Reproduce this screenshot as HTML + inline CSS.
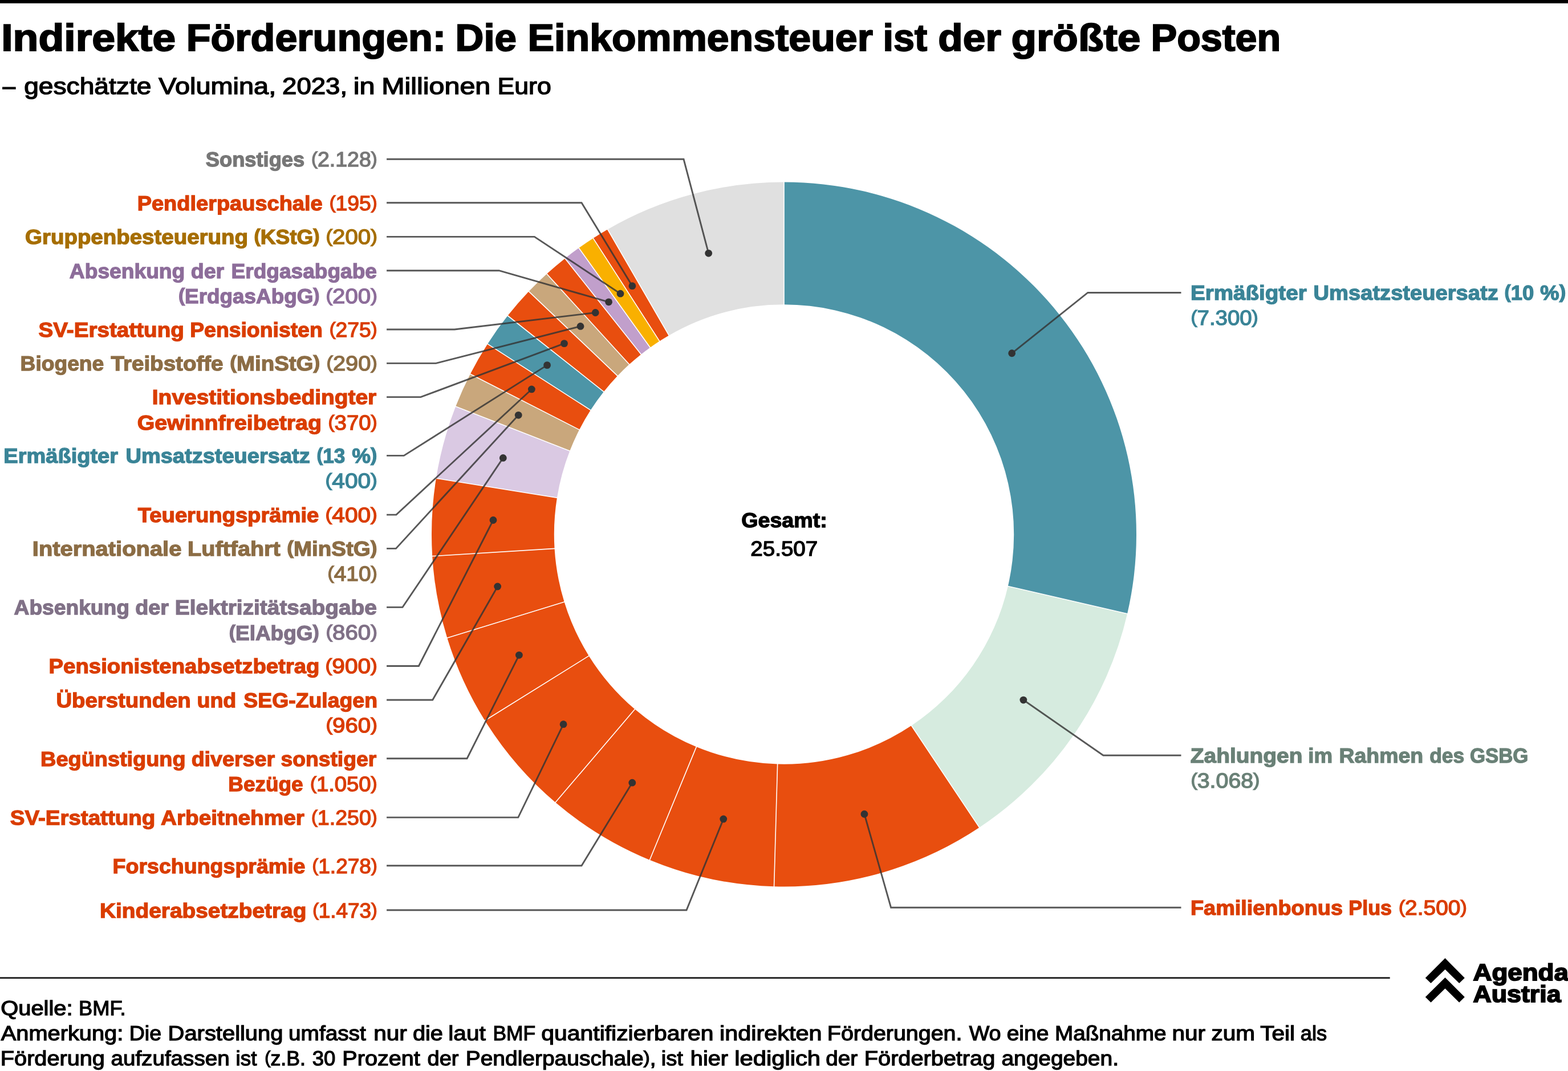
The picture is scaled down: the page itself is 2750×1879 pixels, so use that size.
<!DOCTYPE html>
<html lang="de"><head><meta charset="utf-8"><title>Indirekte Förderungen</title>
<style>
html,body{margin:0;padding:0;background:#fff;}
body{width:2750px;height:1879px;overflow:hidden;position:relative;font-family:"Liberation Sans",sans-serif;}
svg{position:absolute;left:0;top:0;display:block;}
text{font-family:"Liberation Sans",sans-serif;stroke-linejoin:miter;stroke-miterlimit:3;text-rendering:geometricPrecision;}
.B{font-weight:700;font-size:36.0px;stroke-width:1.3px;}.N{font-weight:400;font-size:36.6px;stroke-width:1.4px;}.T{font-weight:700;font-size:66.5px;stroke-width:2.0px;}.S{font-weight:400;font-size:40.8px;stroke-width:1.4px;}.F{font-weight:400;font-size:36.1px;stroke-width:1.3px;}.L{font-weight:700;font-size:41.2px;stroke-width:1.9px;}.Bp{font-size:32.85px;}.Np{font-size:31.66px;}.Fp{font-size:31.23px;}
.lead path{fill:none;stroke:#333;stroke-opacity:.82;stroke-width:2.9;stroke-linejoin:miter;}
.dots circle{fill:#333;}
</style></head>
<body>
<svg width="2750" height="1879" viewBox="0 0 2750 1879" xmlns="http://www.w3.org/2000/svg">
<rect x="0" y="0" width="2750" height="5.8" fill="#000"/>
<g class="head">
<text fill="#000" stroke="#000"><tspan x="2.24" y="89" textLength="305.82" lengthAdjust="spacingAndGlyphs" class="T">Indirekte</tspan> <tspan x="326.76" y="89" textLength="455.33" lengthAdjust="spacingAndGlyphs" class="T">Förderungen:</tspan> <tspan x="798.59" y="89" textLength="107.32" lengthAdjust="spacingAndGlyphs" class="T">Die</tspan> <tspan x="925.53" y="89" textLength="605.33" lengthAdjust="spacingAndGlyphs" class="T">Einkommensteuer</tspan> <tspan x="1548.56" y="89" textLength="77.55" lengthAdjust="spacingAndGlyphs" class="T">ist</tspan> <tspan x="1645.29" y="89" textLength="110.59" lengthAdjust="spacingAndGlyphs" class="T">der</tspan> <tspan x="1773.46" y="89" textLength="226.83" lengthAdjust="spacingAndGlyphs" class="T">größte</tspan> <tspan x="2018.63" y="89" textLength="227.65" lengthAdjust="spacingAndGlyphs" class="T">Posten</tspan></text>
<text fill="#000" stroke="#000"><tspan x="4.75" y="165" textLength="22.32" lengthAdjust="spacingAndGlyphs" class="S">–</tspan> <tspan x="42.21" y="165" textLength="223.19" lengthAdjust="spacingAndGlyphs" class="S">geschätzte</tspan> <tspan x="278.24" y="165" textLength="206.02" lengthAdjust="spacingAndGlyphs" class="S">Volumina,</tspan> <tspan x="495.06" y="165" textLength="114.09" lengthAdjust="spacingAndGlyphs" class="S">2023,</tspan> <tspan x="619.65" y="165" textLength="37.86" lengthAdjust="spacingAndGlyphs" class="S">in</tspan> <tspan x="669.18" y="165" textLength="191.07" lengthAdjust="spacingAndGlyphs" class="S">Millionen</tspan> <tspan x="872.49" y="165" textLength="94.23" lengthAdjust="spacingAndGlyphs" class="S">Euro</tspan></text>
</g>
<g class="donut">
<path d="M1375.00,319.50A618.0,618.0 0 0 1 1977.09,1076.84L1767.82,1028.41A403.2,403.2 0 0 0 1375.00,534.30Z" fill="#4D95A7"/>
<path d="M1977.09,1076.84A618.0,618.0 0 0 1 1717.61,1451.84L1598.53,1273.07A403.2,403.2 0 0 0 1767.82,1028.41Z" fill="#D6EBDF"/>
<path d="M1717.61,1451.84A618.0,618.0 0 0 1 1357.57,1555.25L1363.63,1340.54A403.2,403.2 0 0 0 1598.53,1273.07Z" fill="#E84E0F"/>
<path d="M1357.57,1555.25A618.0,618.0 0 0 1 1139.44,1508.85L1221.32,1310.26A403.2,403.2 0 0 0 1363.63,1340.54Z" fill="#E84E0F"/>
<path d="M1139.44,1508.85A618.0,618.0 0 0 1 974.11,1407.83L1113.45,1244.36A403.2,403.2 0 0 0 1221.32,1310.26Z" fill="#E84E0F"/>
<path d="M974.11,1407.83A618.0,618.0 0 0 1 850.42,1264.21L1032.75,1150.65A403.2,403.2 0 0 0 1113.45,1244.36Z" fill="#E84E0F"/>
<path d="M850.42,1264.21A618.0,618.0 0 0 1 784.31,1119.17L989.61,1056.03A403.2,403.2 0 0 0 1032.75,1150.65Z" fill="#E84E0F"/>
<path d="M784.31,1119.17A618.0,618.0 0 0 1 758.18,975.72L972.57,962.44A403.2,403.2 0 0 0 989.61,1056.03Z" fill="#E84E0F"/>
<path d="M758.18,975.72A618.0,618.0 0 0 1 764.87,839.16L976.94,873.34A403.2,403.2 0 0 0 972.57,962.44Z" fill="#E84E0F"/>
<path d="M764.87,839.16A618.0,618.0 0 0 1 799.19,713.07L999.33,791.08A403.2,403.2 0 0 0 976.94,873.34Z" fill="#DAC9E3"/>
<path d="M799.19,713.07A618.0,618.0 0 0 1 824.75,656.16L1016.00,753.94A403.2,403.2 0 0 0 999.33,791.08Z" fill="#C9A77C"/>
<path d="M824.75,656.16A618.0,618.0 0 0 1 855.10,603.39L1035.80,719.52A403.2,403.2 0 0 0 1016.00,753.94Z" fill="#E84E0F"/>
<path d="M855.10,603.39A618.0,618.0 0 0 1 890.49,553.87L1058.89,687.21A403.2,403.2 0 0 0 1035.80,719.52Z" fill="#4D95A7"/>
<path d="M890.49,553.87A618.0,618.0 0 0 1 927.42,511.36L1082.98,659.48A403.2,403.2 0 0 0 1058.89,687.21Z" fill="#E84E0F"/>
<path d="M927.42,511.36A618.0,618.0 0 0 1 958.97,480.50L1103.57,639.34A403.2,403.2 0 0 0 1082.98,659.48Z" fill="#C9A77C"/>
<path d="M958.97,480.50A618.0,618.0 0 0 1 990.86,453.39L1124.38,621.65A403.2,403.2 0 0 0 1103.57,639.34Z" fill="#E84E0F"/>
<path d="M990.86,453.39A618.0,618.0 0 0 1 1015.17,435.06L1140.24,609.69A403.2,403.2 0 0 0 1124.38,621.65Z" fill="#C19FCB"/>
<path d="M1015.17,435.06A618.0,618.0 0 0 1 1040.35,417.95L1156.66,598.53A403.2,403.2 0 0 0 1140.24,609.69Z" fill="#F9B000"/>
<path d="M1040.35,417.95A618.0,618.0 0 0 1 1065.68,402.48L1173.19,588.44A403.2,403.2 0 0 0 1156.66,598.53Z" fill="#E84E0F"/>
<path d="M1065.68,402.48A618.0,618.0 0 0 1 1375.00,319.50L1375.00,534.30A403.2,403.2 0 0 0 1173.19,588.44Z" fill="#E0E0E0"/>
<path d="M1375.00,318.50L1375.00,535.30M1978.06,1077.07L1766.84,1028.18M1718.16,1452.67L1597.97,1272.23M1357.54,1556.25L1363.66,1339.54M1139.06,1509.77L1221.70,1309.34M973.46,1408.59L1114.10,1243.59M849.57,1264.74L1033.60,1150.13M783.35,1119.46L990.57,1055.73M757.19,975.79L973.57,962.38M763.89,839.00L977.92,873.50M798.26,712.71L1000.26,791.44M823.86,655.70L1016.90,754.40M854.26,602.85L1036.64,720.06M889.70,553.25L1059.68,687.83M926.69,510.67L1083.71,660.17M958.30,479.76L1104.25,640.08M990.24,452.61L1125.00,622.44M1014.59,434.25L1140.82,610.51M1039.81,417.11L1157.21,599.37M1065.18,401.61L1173.69,589.30" fill="none" stroke="#fff" stroke-width="1.6"/>
</g>
<g class="lead">
<path d="M678.1,279.3L1199.0,279.3L1242.70,444.34"/>
<path d="M678.1,355.8L1020.0,355.8L1108.89,501.72"/>
<path d="M678.1,415.4L937.3,415.4L1088.02,515.18"/>
<path d="M678.1,474.7L875.2,474.7L1067.57,529.83"/>
<path d="M678.1,578.0L797.1,578.0L1044.26,548.50"/>
<path d="M678.1,637.4L764.6,637.4L1018.01,572.44"/>
<path d="M678.1,696.6L737.9,696.6L989.55,602.63"/>
<path d="M678.1,799.4L708.3,799.4L959.57,640.64"/>
<path d="M678.1,903.1L694.9,903.1L932.38,682.94"/>
<path d="M678.1,962.4L694.4,962.4L909.23,728.30"/>
<path d="M678.1,1065.4L706.0,1065.4L882.32,803.41"/>
<path d="M678.1,1168.5L734.4,1168.5L865.01,912.51"/>
<path d="M678.1,1228.0L758.7,1228.0L872.66,1028.98"/>
<path d="M678.1,1330.7L819.1,1330.7L910.39,1149.28"/>
<path d="M678.1,1434.1L908.8,1434.1L988.11,1270.70"/>
<path d="M678.1,1518.7L1020.0,1518.7L1108.79,1373.21"/>
<path d="M678.1,1596.7L1204.0,1596.7L1268.75,1436.92"/>
<path d="M2071.5,513.45L1907.8,513.45L1774.68,619.75"/>
<path d="M2071.5,1325.25L1934.9,1325.25L1794.88,1228.04"/>
<path d="M2071.5,1592.25L1562.6,1592.25L1515.96,1428.26"/>
</g>
<g class="dots">
<circle cx="1242.70" cy="444.34" r="6.4"/>
<circle cx="1108.89" cy="501.72" r="6.4"/>
<circle cx="1088.02" cy="515.18" r="6.4"/>
<circle cx="1067.57" cy="529.83" r="6.4"/>
<circle cx="1044.26" cy="548.50" r="6.4"/>
<circle cx="1018.01" cy="572.44" r="6.4"/>
<circle cx="989.55" cy="602.63" r="6.4"/>
<circle cx="959.57" cy="640.64" r="6.4"/>
<circle cx="932.38" cy="682.94" r="6.4"/>
<circle cx="909.23" cy="728.30" r="6.4"/>
<circle cx="882.32" cy="803.41" r="6.4"/>
<circle cx="865.01" cy="912.51" r="6.4"/>
<circle cx="872.66" cy="1028.98" r="6.4"/>
<circle cx="910.39" cy="1149.28" r="6.4"/>
<circle cx="988.11" cy="1270.70" r="6.4"/>
<circle cx="1108.79" cy="1373.21" r="6.4"/>
<circle cx="1268.75" cy="1436.92" r="6.4"/>
<circle cx="1774.68" cy="619.75" r="6.4"/>
<circle cx="1794.88" cy="1228.04" r="6.4"/>
<circle cx="1515.96" cy="1428.26" r="6.4"/>
</g>
<g class="labels">
<text fill="#777777" stroke="#777777"><tspan x="360.85" y="292" textLength="173.33" lengthAdjust="spacingAndGlyphs" class="B">Sonstiges</tspan> <tspan x="546.09" y="289" textLength="10.81" lengthAdjust="spacingAndGlyphs" class="N Np">(</tspan><tspan x="556.90" y="292" textLength="93.91" lengthAdjust="spacingAndGlyphs" class="N">2.128</tspan><tspan x="650.80" y="289" textLength="10.81" lengthAdjust="spacingAndGlyphs" class="N Np">)</tspan></text>
<text fill="#DA3D00" stroke="#DA3D00"><tspan x="240.68" y="369" textLength="324.93" lengthAdjust="spacingAndGlyphs" class="B">Pendlerpauschale</tspan> <tspan x="577.71" y="366" textLength="10.77" lengthAdjust="spacingAndGlyphs" class="N Np">(</tspan><tspan x="588.48" y="369" textLength="62.36" lengthAdjust="spacingAndGlyphs" class="N">195</tspan><tspan x="650.84" y="366" textLength="10.77" lengthAdjust="spacingAndGlyphs" class="N Np">)</tspan></text>
<text fill="#A66E00" stroke="#A66E00"><tspan x="44.05" y="428" textLength="390.91" lengthAdjust="spacingAndGlyphs" class="B">Gruppenbesteuerung</tspan> <tspan x="445.45" y="425" textLength="11.26" lengthAdjust="spacingAndGlyphs" class="B Bp">(</tspan><tspan x="456.71" y="428" textLength="92.61" lengthAdjust="spacingAndGlyphs" class="B">KStG</tspan><tspan x="549.32" y="425" textLength="11.26" lengthAdjust="spacingAndGlyphs" class="B Bp">)</tspan> <tspan x="571.53" y="425" textLength="11.58" lengthAdjust="spacingAndGlyphs" class="N Np">(</tspan><tspan x="583.11" y="428" textLength="67.07" lengthAdjust="spacingAndGlyphs" class="N">200</tspan><tspan x="650.18" y="425" textLength="11.58" lengthAdjust="spacingAndGlyphs" class="N Np">)</tspan></text>
<text fill="#8D6D9A" stroke="#8D6D9A"><tspan x="121.81" y="488" textLength="202.52" lengthAdjust="spacingAndGlyphs" class="B">Absenkung</tspan> <tspan x="334.75" y="488" textLength="58.45" lengthAdjust="spacingAndGlyphs" class="B">der</tspan> <tspan x="405.50" y="488" textLength="255.42" lengthAdjust="spacingAndGlyphs" class="B">Erdgasabgabe</tspan></text>
<text fill="#8D6D9A" stroke="#8D6D9A"><tspan x="312.93" y="529" textLength="11.20" lengthAdjust="spacingAndGlyphs" class="B Bp">(</tspan><tspan x="324.13" y="532" textLength="225.24" lengthAdjust="spacingAndGlyphs" class="B">ErdgasAbgG</tspan><tspan x="549.37" y="529" textLength="11.20" lengthAdjust="spacingAndGlyphs" class="B Bp">)</tspan> <tspan x="571.53" y="529" textLength="11.58" lengthAdjust="spacingAndGlyphs" class="N Np">(</tspan><tspan x="583.11" y="532" textLength="67.07" lengthAdjust="spacingAndGlyphs" class="N">200</tspan><tspan x="650.18" y="529" textLength="11.58" lengthAdjust="spacingAndGlyphs" class="N Np">)</tspan></text>
<text fill="#DA3D00" stroke="#DA3D00"><tspan x="67.41" y="591" textLength="255.52" lengthAdjust="spacingAndGlyphs" class="B">SV-Erstattung</tspan> <tspan x="333.19" y="591" textLength="232.54" lengthAdjust="spacingAndGlyphs" class="B">Pensionisten</tspan> <tspan x="577.71" y="588" textLength="10.77" lengthAdjust="spacingAndGlyphs" class="N Np">(</tspan><tspan x="588.48" y="591" textLength="62.36" lengthAdjust="spacingAndGlyphs" class="N">275</tspan><tspan x="650.84" y="588" textLength="10.77" lengthAdjust="spacingAndGlyphs" class="N Np">)</tspan></text>
<text fill="#8C6D45" stroke="#8C6D45"><tspan x="35.61" y="650" textLength="146.54" lengthAdjust="spacingAndGlyphs" class="B">Biogene</tspan> <tspan x="194.59" y="650" textLength="196.94" lengthAdjust="spacingAndGlyphs" class="B">Treibstoffe</tspan> <tspan x="403.22" y="647" textLength="11.69" lengthAdjust="spacingAndGlyphs" class="B Bp">(</tspan><tspan x="414.91" y="650" textLength="134.64" lengthAdjust="spacingAndGlyphs" class="B">MinStG</tspan><tspan x="549.55" y="647" textLength="11.69" lengthAdjust="spacingAndGlyphs" class="B Bp">)</tspan> <tspan x="572.46" y="647" textLength="11.46" lengthAdjust="spacingAndGlyphs" class="N Np">(</tspan><tspan x="583.92" y="650" textLength="66.36" lengthAdjust="spacingAndGlyphs" class="N">290</tspan><tspan x="650.28" y="647" textLength="11.46" lengthAdjust="spacingAndGlyphs" class="N Np">)</tspan></text>
<text fill="#DA3D00" stroke="#DA3D00"><tspan x="266.82" y="709" textLength="393.42" lengthAdjust="spacingAndGlyphs" class="B">Investitionsbedingter</tspan></text>
<text fill="#DA3D00" stroke="#DA3D00"><tspan x="240.70" y="754" textLength="323.23" lengthAdjust="spacingAndGlyphs" class="B">Gewinnfreibetrag</tspan> <tspan x="575.55" y="751" textLength="11.05" lengthAdjust="spacingAndGlyphs" class="N Np">(</tspan><tspan x="586.60" y="754" textLength="64.01" lengthAdjust="spacingAndGlyphs" class="N">370</tspan><tspan x="650.61" y="751" textLength="11.05" lengthAdjust="spacingAndGlyphs" class="N Np">)</tspan></text>
<text fill="#3A8497" stroke="#3A8497"><tspan x="6.34" y="812" textLength="200.72" lengthAdjust="spacingAndGlyphs" class="B">Ermäßigter</tspan> <tspan x="220.45" y="812" textLength="323.25" lengthAdjust="spacingAndGlyphs" class="B">Umsatzsteuersatz</tspan> <tspan x="555.47" y="809" textLength="10.70" lengthAdjust="spacingAndGlyphs" class="B Bp">(</tspan><tspan x="566.17" y="812" textLength="39.17" lengthAdjust="spacingAndGlyphs" class="B">13</tspan> <tspan x="617.30" y="812" textLength="32.81" lengthAdjust="spacingAndGlyphs" class="B">%</tspan><tspan x="650.11" y="809" textLength="11.21" lengthAdjust="spacingAndGlyphs" class="B Bp">)</tspan></text>
<text fill="#3A8497" stroke="#3A8497"><tspan x="570.61" y="853" textLength="11.70" lengthAdjust="spacingAndGlyphs" class="N Np">(</tspan><tspan x="582.31" y="856" textLength="67.77" lengthAdjust="spacingAndGlyphs" class="N">400</tspan><tspan x="650.08" y="853" textLength="11.70" lengthAdjust="spacingAndGlyphs" class="N Np">)</tspan></text>
<text fill="#DA3D00" stroke="#DA3D00"><tspan x="241.89" y="916" textLength="317.41" lengthAdjust="spacingAndGlyphs" class="B">Teuerungsprämie</tspan> <tspan x="570.61" y="913" textLength="11.70" lengthAdjust="spacingAndGlyphs" class="N Np">(</tspan><tspan x="582.31" y="916" textLength="67.77" lengthAdjust="spacingAndGlyphs" class="N">400</tspan><tspan x="650.08" y="913" textLength="11.70" lengthAdjust="spacingAndGlyphs" class="N Np">)</tspan></text>
<text fill="#8C6D45" stroke="#8C6D45"><tspan x="56.81" y="975" textLength="261.57" lengthAdjust="spacingAndGlyphs" class="B">Internationale</tspan> <tspan x="329.13" y="975" textLength="162.48" lengthAdjust="spacingAndGlyphs" class="B">Luftfahrt</tspan> <tspan x="503.21" y="972" textLength="11.70" lengthAdjust="spacingAndGlyphs" class="B Bp">(</tspan><tspan x="514.92" y="975" textLength="134.78" lengthAdjust="spacingAndGlyphs" class="B">MinStG</tspan><tspan x="649.70" y="972" textLength="11.70" lengthAdjust="spacingAndGlyphs" class="B Bp">)</tspan></text>
<text fill="#8C6D45" stroke="#8C6D45"><tspan x="574.62" y="1016" textLength="11.17" lengthAdjust="spacingAndGlyphs" class="N Np">(</tspan><tspan x="585.79" y="1019" textLength="64.71" lengthAdjust="spacingAndGlyphs" class="N">410</tspan><tspan x="650.51" y="1016" textLength="11.17" lengthAdjust="spacingAndGlyphs" class="N Np">)</tspan></text>
<text fill="#807187" stroke="#807187"><tspan x="24.52" y="1078" textLength="202.52" lengthAdjust="spacingAndGlyphs" class="B">Absenkung</tspan> <tspan x="237.15" y="1078" textLength="58.76" lengthAdjust="spacingAndGlyphs" class="B">der</tspan> <tspan x="306.88" y="1078" textLength="354.09" lengthAdjust="spacingAndGlyphs" class="B">Elektrizitätsabgabe</tspan></text>
<text fill="#807187" stroke="#807187"><tspan x="401.78" y="1120" textLength="11.22" lengthAdjust="spacingAndGlyphs" class="B Bp">(</tspan><tspan x="413.00" y="1123" textLength="135.44" lengthAdjust="spacingAndGlyphs" class="B">ElAbgG</tspan><tspan x="548.44" y="1120" textLength="11.22" lengthAdjust="spacingAndGlyphs" class="B Bp">)</tspan> <tspan x="571.53" y="1119" textLength="11.58" lengthAdjust="spacingAndGlyphs" class="N Np">(</tspan><tspan x="583.11" y="1122" textLength="67.07" lengthAdjust="spacingAndGlyphs" class="N">860</tspan><tspan x="650.18" y="1119" textLength="11.58" lengthAdjust="spacingAndGlyphs" class="N Np">)</tspan></text>
<text fill="#DA3D00" stroke="#DA3D00"><tspan x="85.53" y="1181" textLength="475.02" lengthAdjust="spacingAndGlyphs" class="B">Pensionistenabsetzbetrag</tspan> <tspan x="570.61" y="1178" textLength="11.70" lengthAdjust="spacingAndGlyphs" class="N Np">(</tspan><tspan x="582.31" y="1181" textLength="67.77" lengthAdjust="spacingAndGlyphs" class="N">900</tspan><tspan x="650.08" y="1178" textLength="11.70" lengthAdjust="spacingAndGlyphs" class="N Np">)</tspan></text>
<text fill="#DA3D00" stroke="#DA3D00"><tspan x="98.45" y="1241" textLength="236.32" lengthAdjust="spacingAndGlyphs" class="B">Überstunden</tspan> <tspan x="345.40" y="1241" textLength="68.98" lengthAdjust="spacingAndGlyphs" class="B">und</tspan> <tspan x="427.38" y="1241" textLength="234.59" lengthAdjust="spacingAndGlyphs" class="B">SEG-Zulagen</tspan></text>
<text fill="#DA3D00" stroke="#DA3D00"><tspan x="571.53" y="1282" textLength="11.58" lengthAdjust="spacingAndGlyphs" class="N Np">(</tspan><tspan x="583.11" y="1285" textLength="67.07" lengthAdjust="spacingAndGlyphs" class="N">960</tspan><tspan x="650.18" y="1282" textLength="11.58" lengthAdjust="spacingAndGlyphs" class="N Np">)</tspan></text>
<text fill="#DA3D00" stroke="#DA3D00"><tspan x="71.11" y="1344" textLength="254.47" lengthAdjust="spacingAndGlyphs" class="B">Begünstigung</tspan> <tspan x="335.65" y="1344" textLength="146.40" lengthAdjust="spacingAndGlyphs" class="B">diverser</tspan> <tspan x="492.51" y="1344" textLength="167.70" lengthAdjust="spacingAndGlyphs" class="B">sonstiger</tspan></text>
<text fill="#DA3D00" stroke="#DA3D00"><tspan x="400.39" y="1388" textLength="131.15" lengthAdjust="spacingAndGlyphs" class="B">Bezüge</tspan> <tspan x="543.93" y="1385" textLength="11.02" lengthAdjust="spacingAndGlyphs" class="N Np">(</tspan><tspan x="554.94" y="1388" textLength="95.69" lengthAdjust="spacingAndGlyphs" class="N">1.050</tspan><tspan x="650.64" y="1385" textLength="11.02" lengthAdjust="spacingAndGlyphs" class="N Np">)</tspan></text>
<text fill="#DA3D00" stroke="#DA3D00"><tspan x="17.71" y="1447" textLength="254.60" lengthAdjust="spacingAndGlyphs" class="B">SV-Erstattung</tspan> <tspan x="282.01" y="1447" textLength="251.86" lengthAdjust="spacingAndGlyphs" class="B">Arbeitnehmer</tspan> <tspan x="546.07" y="1444" textLength="10.81" lengthAdjust="spacingAndGlyphs" class="N Np">(</tspan><tspan x="556.88" y="1447" textLength="93.92" lengthAdjust="spacingAndGlyphs" class="N">1.250</tspan><tspan x="650.80" y="1444" textLength="10.81" lengthAdjust="spacingAndGlyphs" class="N Np">)</tspan></text>
<text fill="#DA3D00" stroke="#DA3D00"><tspan x="197.63" y="1532" textLength="337.84" lengthAdjust="spacingAndGlyphs" class="B">Forschungsprämie</tspan> <tspan x="547.61" y="1529" textLength="10.66" lengthAdjust="spacingAndGlyphs" class="N Np">(</tspan><tspan x="558.27" y="1532" textLength="92.65" lengthAdjust="spacingAndGlyphs" class="N">1.278</tspan><tspan x="650.92" y="1529" textLength="10.66" lengthAdjust="spacingAndGlyphs" class="N Np">)</tspan></text>
<text fill="#DA3D00" stroke="#DA3D00"><tspan x="174.96" y="1610" textLength="362.43" lengthAdjust="spacingAndGlyphs" class="B">Kinderabsetzbetrag</tspan> <tspan x="548.22" y="1607" textLength="10.61" lengthAdjust="spacingAndGlyphs" class="N Np">(</tspan><tspan x="558.83" y="1610" textLength="92.14" lengthAdjust="spacingAndGlyphs" class="N">1.473</tspan><tspan x="650.97" y="1607" textLength="10.61" lengthAdjust="spacingAndGlyphs" class="N Np">)</tspan></text>
<text fill="#3A8497" stroke="#3A8497"><tspan x="2087.92" y="526" textLength="203.78" lengthAdjust="spacingAndGlyphs" class="B">Ermäßigter</tspan> <tspan x="2303.58" y="526" textLength="324.16" lengthAdjust="spacingAndGlyphs" class="B">Umsatzsteuersatz</tspan> <tspan x="2638.55" y="523" textLength="11.08" lengthAdjust="spacingAndGlyphs" class="B Bp">(</tspan><tspan x="2649.63" y="526" textLength="40.57" lengthAdjust="spacingAndGlyphs" class="B">10</tspan> <tspan x="2701.01" y="526" textLength="33.64" lengthAdjust="spacingAndGlyphs" class="B">%</tspan><tspan x="2734.65" y="523" textLength="11.50" lengthAdjust="spacingAndGlyphs" class="B Bp">)</tspan></text>
<text fill="#3A8497" stroke="#3A8497"><tspan x="2088.50" y="567" textLength="11.06" lengthAdjust="spacingAndGlyphs" class="N Np">(</tspan><tspan x="2099.56" y="570" textLength="96.07" lengthAdjust="spacingAndGlyphs" class="N">7.300</tspan><tspan x="2195.62" y="567" textLength="11.06" lengthAdjust="spacingAndGlyphs" class="N Np">)</tspan></text>
<text fill="#6A8177" stroke="#6A8177"><tspan x="2087.84" y="1338" textLength="196.65" lengthAdjust="spacingAndGlyphs" class="B">Zahlungen</tspan> <tspan x="2294.27" y="1338" textLength="42.80" lengthAdjust="spacingAndGlyphs" class="B">im</tspan> <tspan x="2348.55" y="1338" textLength="147.60" lengthAdjust="spacingAndGlyphs" class="B">Rahmen</tspan> <tspan x="2507.13" y="1338" textLength="61.05" lengthAdjust="spacingAndGlyphs" class="B">des</tspan> <tspan x="2577.94" y="1338" textLength="102.39" lengthAdjust="spacingAndGlyphs" class="B">GSBG</tspan></text>
<text fill="#6A8177" stroke="#6A8177"><tspan x="2088.45" y="1379" textLength="11.32" lengthAdjust="spacingAndGlyphs" class="N Np">(</tspan><tspan x="2099.77" y="1382" textLength="98.35" lengthAdjust="spacingAndGlyphs" class="N">3.068</tspan><tspan x="2198.12" y="1379" textLength="11.32" lengthAdjust="spacingAndGlyphs" class="N Np">)</tspan></text>
<text fill="#DA3D00" stroke="#DA3D00"><tspan x="2087.97" y="1605" textLength="267.05" lengthAdjust="spacingAndGlyphs" class="B">Familienbonus</tspan> <tspan x="2365.21" y="1605" textLength="75.88" lengthAdjust="spacingAndGlyphs" class="B">Plus</tspan> <tspan x="2452.93" y="1602" textLength="11.20" lengthAdjust="spacingAndGlyphs" class="N Np">(</tspan><tspan x="2464.13" y="1605" textLength="97.34" lengthAdjust="spacingAndGlyphs" class="N">2.500</tspan><tspan x="2561.47" y="1602" textLength="11.20" lengthAdjust="spacingAndGlyphs" class="N Np">)</tspan></text>
</g>
<g class="center">
<text fill="#000" stroke="#000"><tspan x="1300.31" y="925" textLength="150.46" lengthAdjust="spacingAndGlyphs" class="B">Gesamt:</tspan></text>
<text fill="#000" stroke="#000"><tspan x="1316.36" y="975" textLength="117.88" lengthAdjust="spacingAndGlyphs" class="N">25.507</tspan></text>
</g>
<rect x="0" y="1714.25" width="2437.7" height="2.85" fill="#1f1f1f"/>
<g class="logo">
<path d="M2534.5,1681.1L2568.8,1715.7L2559.2,1725.1L2534.5,1700.7L2509.5,1725.1L2499.8,1715.7Z"/>
<path d="M2534.5,1715.0L2568.8,1749.3L2559.2,1758.8L2534.5,1734.2L2509.5,1758.8L2499.8,1749.3Z"/>
<text fill="#000" stroke="#000"><tspan x="2583.41" y="1720" textLength="167.55" lengthAdjust="spacingAndGlyphs" class="L">Agenda</tspan></text>
<text fill="#000" stroke="#000"><tspan x="2583.44" y="1758" textLength="154.13" lengthAdjust="spacingAndGlyphs" class="L">Austria</tspan></text>
</g>
<g class="foot">
<text fill="#000" stroke="#000"><tspan x="1.21" y="1781" textLength="126.33" lengthAdjust="spacingAndGlyphs" class="F">Quelle:</tspan> <tspan x="138.13" y="1781" textLength="82.58" lengthAdjust="spacingAndGlyphs" class="F">BMF.</tspan></text>
<text fill="#000" stroke="#000"><tspan x="1.77" y="1825" textLength="214.51" lengthAdjust="spacingAndGlyphs" class="F">Anmerkung:</tspan> <tspan x="226.77" y="1825" textLength="56.29" lengthAdjust="spacingAndGlyphs" class="F">Die</tspan> <tspan x="294.58" y="1825" textLength="201.90" lengthAdjust="spacingAndGlyphs" class="F">Darstellung</tspan> <tspan x="506.08" y="1825" textLength="135.60" lengthAdjust="spacingAndGlyphs" class="F">umfasst</tspan> <tspan x="655.15" y="1825" textLength="58.67" lengthAdjust="spacingAndGlyphs" class="F">nur</tspan> <tspan x="723.93" y="1825" textLength="52.98" lengthAdjust="spacingAndGlyphs" class="F">die</tspan> <tspan x="786.37" y="1825" textLength="65.33" lengthAdjust="spacingAndGlyphs" class="F">laut</tspan> <tspan x="864.45" y="1825" textLength="74.62" lengthAdjust="spacingAndGlyphs" class="F">BMF</tspan> <tspan x="949.38" y="1825" textLength="302.17" lengthAdjust="spacingAndGlyphs" class="F">quantifizierbaren</tspan> <tspan x="1262.08" y="1825" textLength="179.51" lengthAdjust="spacingAndGlyphs" class="F">indirekten</tspan> <tspan x="1450.87" y="1825" textLength="236.63" lengthAdjust="spacingAndGlyphs" class="F">Förderungen.</tspan> <tspan x="1699.68" y="1825" textLength="55.80" lengthAdjust="spacingAndGlyphs" class="F">Wo</tspan> <tspan x="1765.69" y="1825" textLength="73.69" lengthAdjust="spacingAndGlyphs" class="F">eine</tspan> <tspan x="1849.93" y="1825" textLength="195.69" lengthAdjust="spacingAndGlyphs" class="F">Maßnahme</tspan> <tspan x="2055.40" y="1825" textLength="58.67" lengthAdjust="spacingAndGlyphs" class="F">nur</tspan> <tspan x="2124.46" y="1825" textLength="76.62" lengthAdjust="spacingAndGlyphs" class="F">zum</tspan> <tspan x="2210.19" y="1825" textLength="60.93" lengthAdjust="spacingAndGlyphs" class="F">Teil</tspan> <tspan x="2280.81" y="1825" textLength="46.40" lengthAdjust="spacingAndGlyphs" class="F">als</tspan></text>
<text fill="#000" stroke="#000"><tspan x="0.84" y="1869" textLength="183.11" lengthAdjust="spacingAndGlyphs" class="F">Förderung</tspan> <tspan x="194.46" y="1869" textLength="208.20" lengthAdjust="spacingAndGlyphs" class="F">aufzufassen</tspan> <tspan x="413.64" y="1869" textLength="36.78" lengthAdjust="spacingAndGlyphs" class="F">ist</tspan> <tspan x="464.19" y="1866" textLength="10.27" lengthAdjust="spacingAndGlyphs" class="F Fp">(</tspan><tspan x="474.46" y="1869" textLength="61.45" lengthAdjust="spacingAndGlyphs" class="F">z.B.</tspan> <tspan x="547.71" y="1869" textLength="40.62" lengthAdjust="spacingAndGlyphs" class="F">30</tspan> <tspan x="600.35" y="1869" textLength="136.33" lengthAdjust="spacingAndGlyphs" class="F">Prozent</tspan> <tspan x="749.50" y="1869" textLength="55.03" lengthAdjust="spacingAndGlyphs" class="F">der</tspan> <tspan x="816.65" y="1869" textLength="311.95" lengthAdjust="spacingAndGlyphs" class="F">Pendlerpauschale</tspan><tspan x="1128.60" y="1866" textLength="11.22" lengthAdjust="spacingAndGlyphs" class="F Fp">)</tspan><tspan x="1139.83" y="1869" textLength="10.83" lengthAdjust="spacingAndGlyphs" class="F">,</tspan> <tspan x="1159.80" y="1869" textLength="38.13" lengthAdjust="spacingAndGlyphs" class="F">ist</tspan> <tspan x="1210.85" y="1869" textLength="66.21" lengthAdjust="spacingAndGlyphs" class="F">hier</tspan> <tspan x="1288.29" y="1869" textLength="150.82" lengthAdjust="spacingAndGlyphs" class="F">lediglich</tspan> <tspan x="1448.23" y="1869" textLength="55.81" lengthAdjust="spacingAndGlyphs" class="F">der</tspan> <tspan x="1515.85" y="1869" textLength="229.36" lengthAdjust="spacingAndGlyphs" class="F">Förderbetrag</tspan> <tspan x="1756.45" y="1869" textLength="205.50" lengthAdjust="spacingAndGlyphs" class="F">angegeben.</tspan></text>
</g>
</svg>
</body></html>
